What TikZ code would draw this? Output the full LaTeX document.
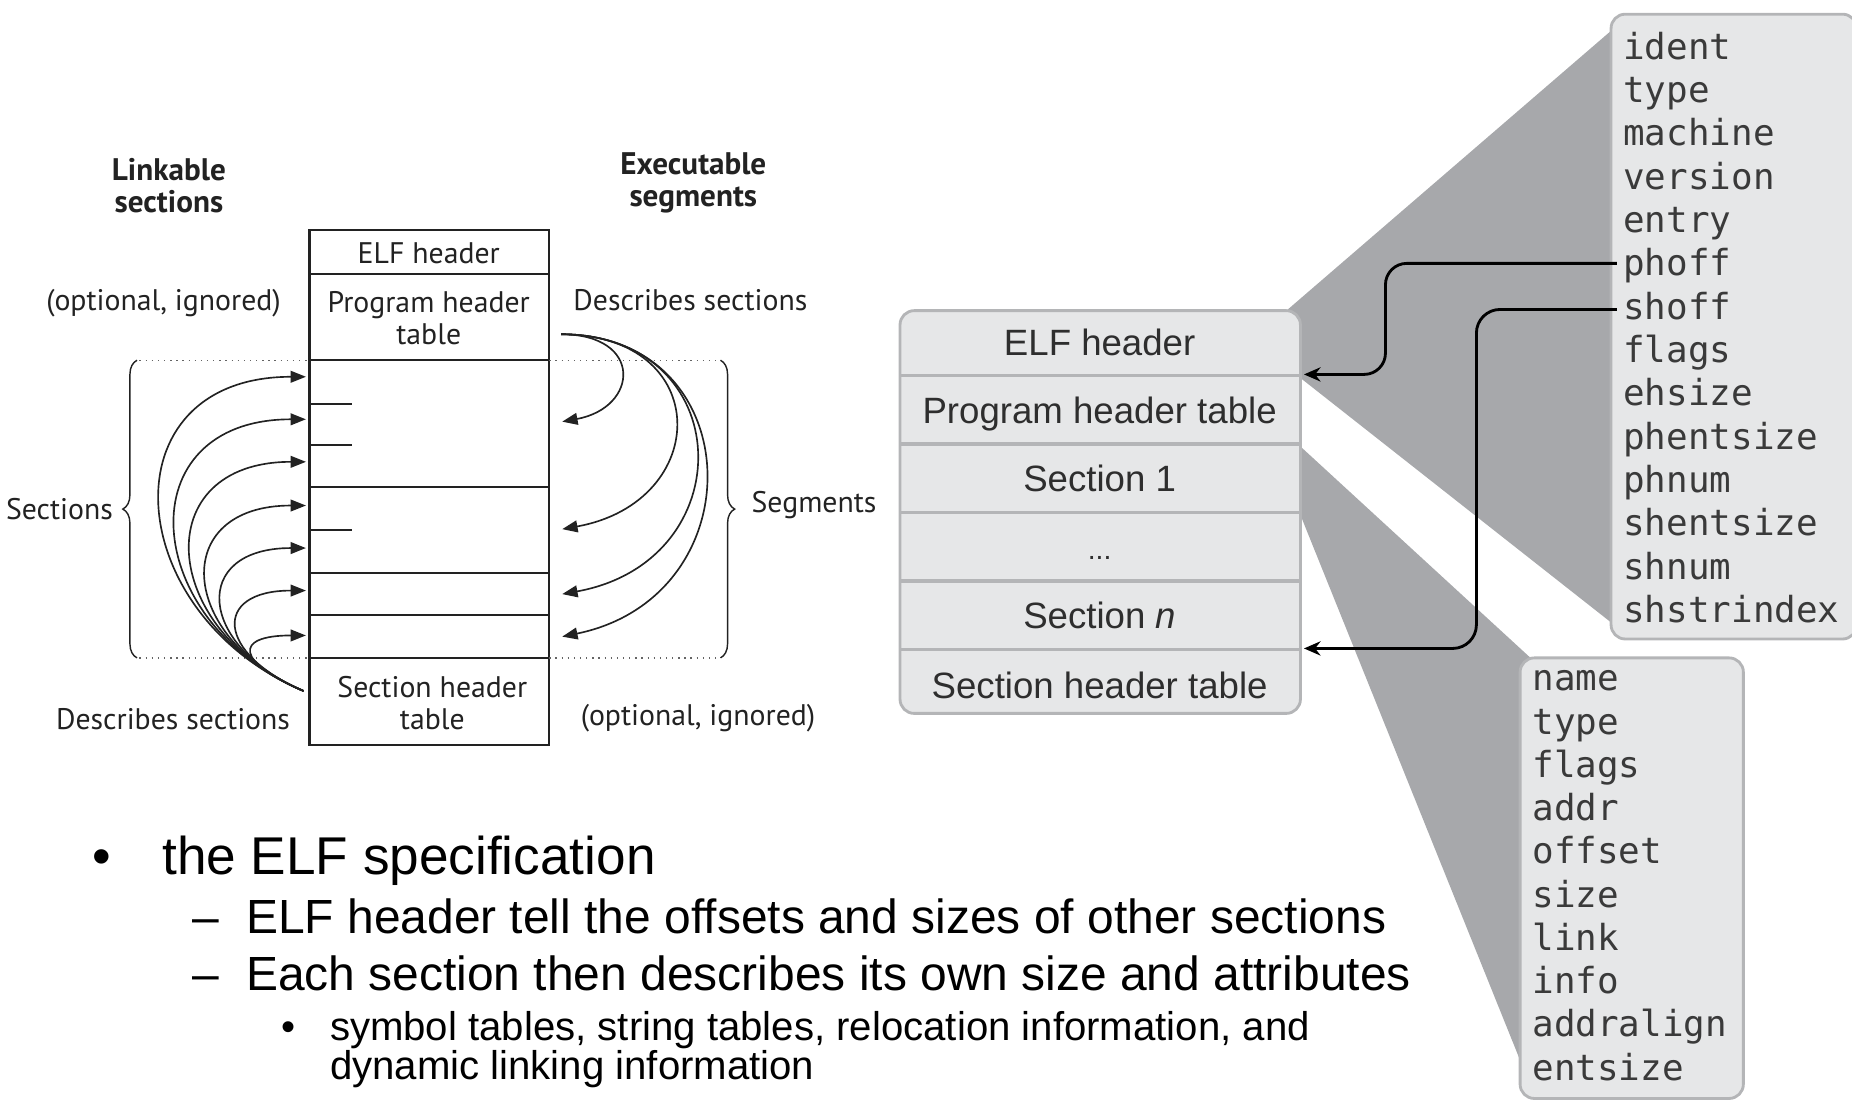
\documentclass[tikz,border=0pt]{standalone}
\usepackage{fontspec}
\setmainfont{Liberation Sans}
\newfontfamily\lfont{PT Sans}
\newfontfamily\hfont{Liberation Sans}
\newfontfamily\mfont{DejaVu Sans Mono}
\usetikzlibrary{arrows.meta,decorations.pathreplacing}
\newcommand\fsz[2]{\fontsize{#1}{#2}\selectfont}
\definecolor{boxfill}{HTML}{E6E7E8}
\definecolor{boxline}{HTML}{B4B5B7}
\definecolor{fan}{HTML}{A7A8AB}
\definecolor{ink}{HTML}{222222}
\definecolor{rtext}{HTML}{2E2E2E}
\definecolor{ftext}{HTML}{3A3A3A}
\begin{document}
\begin{tikzpicture}[x=0.5pt,y=0.5pt,
  ltext/.style={font=\lfont\fsz{12.6}{13.5}, text=ink, inner sep=0pt, align=center},
  lhead/.style={font=\lfont\bfseries\fsz{13.2}{13.5}, text=ink, inner sep=0pt, align=center},
  lbox/.style={draw=ink, line width=0.9pt},
  dotline/.style={draw=ink!70, line width=0.6pt, dotted},
  bracestyle/.style={draw=ink, line width=0.6pt, decorate, decoration={brace, amplitude=6pt}},
  larrow/.style={-{Triangle[length=6.5pt,width=5pt]}, line width=0.7pt, draw=ink},
  rowlab/.style={font=\hfont\fsz{15.5}{18}, text=rtext, inner sep=0pt, anchor=base},
  rbox/.style={draw=boxline, fill=boxfill, line width=1.2pt, rounded corners=6pt},
  rowsep/.style={draw=boxline, line width=1.4pt},
  fld/.style={font=\mfont\fsz{15.2}{18}, text=ftext, inner sep=0pt, anchor=base west},
  parrow/.style={-{Stealth[length=7pt,width=6pt]}, line width=1.2pt, draw=black},
  lvone/.style={font=\hfont\fsz{22.5}{27}, inner sep=0pt, anchor=base west},
  lvtwo/.style={font=\hfont\fsz{20.3}{24}, inner sep=0pt, anchor=base west},
  lvthree/.style={font=\hfont\fsz{17}{16.5}, inner sep=0pt, anchor=base west}
]
\useasboundingbox (0,0) rectangle (1568,-932);

% ================= left diagram =================
\node[lhead] (linkable) at (143,-157) {Linkable\\sections};
\node[lhead] (executable) at (587,-155) {Executable\\segments};

\draw[lbox] (262,-195) rectangle (465,-631);
\foreach \yy in {232,305,412,485,521,557}
  \draw[lbox] (262,-\yy) -- (465,-\yy);
\foreach \yy in {342,377,449}
  \draw[lbox] (262,-\yy) -- (298,-\yy);

\node[ltext] (elfh) at (363,-214) {ELF header};
\node[ltext] (pht) at (363,-269) {Program header\\table};
\node[ltext] (sht) at (366,-595) {Section header\\table};

\node[ltext] (optl) at (138.5,-257) {(optional, ignored)};
\node[ltext] (descr) at (584.5,-254) {Describes sections};
\node[ltext] (descl) at (146.5,-609) {Describes sections};
\node[ltext] (optr) at (591,-608) {(optional, ignored)};

\draw[dotline] (118,-305) -- (262,-305);
\draw[dotline] (118,-557) -- (262,-557);
\draw[dotline] (465,-305) -- (610,-305);
\draw[dotline] (465,-557) -- (610,-557);
\draw[bracestyle] (116,-557) -- (116,-305);
\draw[bracestyle] (610,-305) -- (610,-557);
\node[ltext, anchor=east] (sections) at (96,-431) {Sections};
\node[ltext, anchor=west] (segments) at (636,-428) {Segments};

\coordinate (LO) at (257,-585);
\foreach \yy/\L [count=\i] in {319/170, 355/152, 391/134, 428/116, 464/98, 500/80, 538/62} {
  \coordinate (lt\i) at (259,-\yy);
  \draw[larrow] (LO) .. controls ({257-0.92*\L},{-585+0.39*\L}) and ({259-\L},-\yy) .. (lt\i);
}
\coordinate (RO) at (475,-283);
\foreach \yy/\a/\b/\c [count=\i] in {357/70/66/345, 448/130/128/425, 503/150/155/475, 539/160/166/505} {
  \coordinate (rt\i) at (476,-\yy);
  \draw[larrow] (RO) .. controls ({475+\a},-283) and ({475+\b},-\c) .. (rt\i);
}

% ================= right diagram =================
\fill[fan] (1088,-264) -- (1378,-14) -- (1378,-538) -- (1101,-320) -- cycle;
\fill[fan] (1101,-378) -- (1298,-559) -- (1298,-925) -- (1101,-436) -- cycle;

\draw[rbox] (762,-263) rectangle (1101,-604);
\foreach \yy in {318,376,434,492,550}
  \draw[rowsep] (763,-\yy) -- (1100,-\yy);
\node[rowlab] (r1) at (931,-301) {ELF header};
\node[rowlab] (r2) at (931,-358.5) {Program header table};
\node[rowlab] (r3) at (931,-416.5) {Section 1};
\node[rowlab, font=\hfont\fsz{12}{14}] (r4) at (931,-474) {...};
\node[rowlab] (r5) at (931,-532.5) {Section \textit{n}};
\node[rowlab] (r6) at (931,-591) {Section header table};

\draw[rbox] (1364,-12) rectangle (1572,-541);
\foreach \w [count=\i from 0] in {ident,type,machine,version,entry,phoff,shoff,flags,ehsize,phentsize,phnum,shentsize,shnum,shstrindex}
  \node[fld] (eh\w) at (1374,{-50-36.7*\i}) {\w};

\draw[rbox] (1287,-557) rectangle (1476,-930);
\foreach \w [count=\i from 0] in {name,type,flags,addr,offset,size,link,info,addralign,entsize}
  \node[fld] (sh\w) at (1297,{-585-36.6*\i}) {\w};

\coordinate (phs) at (1369,-223);
\coordinate (pht1) at (1104,-317);
\coordinate (shs) at (1369,-262);
\coordinate (sht1) at (1104,-549);
\draw[parrow, rounded corners=9pt] (phs) -- (1173,-223) -- (1173,-317) -- (pht1);
\draw[parrow, rounded corners=10pt] (shs) -- (1250,-262) -- (1250,-549) -- (sht1);

% ================= bullets =================
\node[lvone] (b1) at (78,-740) {•};
\node[lvone] (t1) at (137,-740) {the ELF specification};
\node[lvtwo] (b2) at (163,-790) {–};
\node[lvtwo] (t2) at (208,-790) {ELF header tell the offsets and sizes of other sections};
\node[lvtwo] (b3) at (163,-839) {–};
\node[lvtwo] (t3) at (208,-839) {Each section then describes its own size and attributes};
\node[lvthree] (b4) at (238,-881) {•};
\node[lvthree] (t4) at (279,-881) {symbol tables, string tables, relocation information, and};
\node[lvthree] (t5) at (279,-914) {dynamic linking information};
\end{tikzpicture}
\end{document}
